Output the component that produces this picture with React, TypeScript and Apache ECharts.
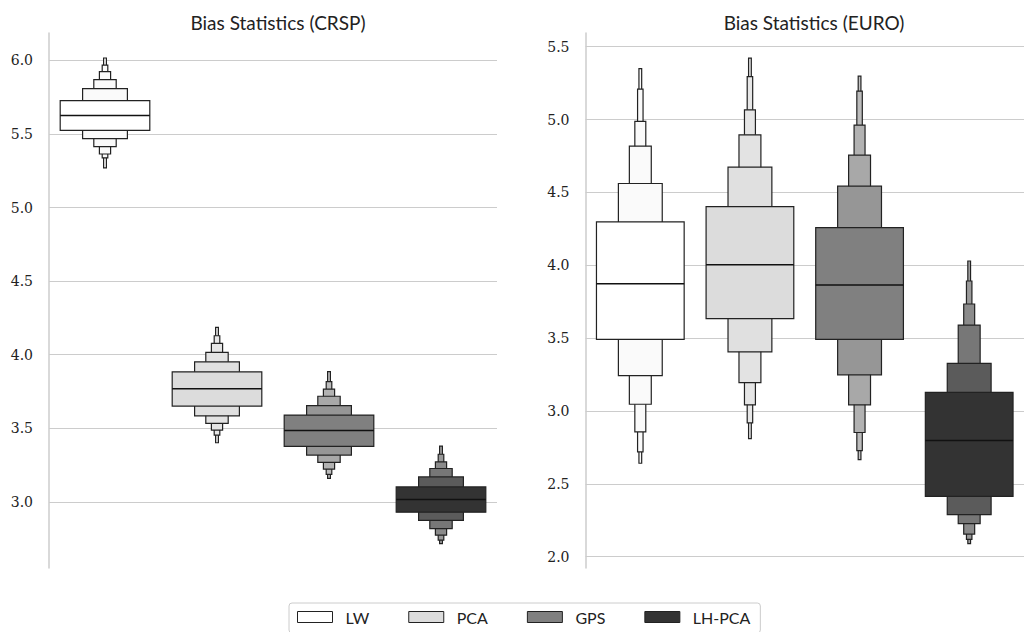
import React, { useEffect, useRef } from "react";
import * as echarts from "echarts";

// ---------------- data ----------------
const methods = ["LW", "PCA", "GPS", "LH-PCA"];
const yTicksCRSP = [3.0, 3.5, 4.0, 4.5, 5.0, 5.5, 6.0];
const yTicksEURO = [2.0, 2.5, 3.0, 3.5, 4.0, 4.5, 5.0, 5.5];

// letter values: level 1 (quartiles) ... level 6 (outermost)
const crspMedian = [5.626, 3.769, 3.486, 3.016];
const crspLower = [
  [5.524, 5.468, 5.414, 5.364, 5.338, 5.27],
  [3.651, 3.585, 3.534, 3.488, 3.454, 3.402],
  [3.378, 3.318, 3.269, 3.223, 3.187, 3.16],
  [2.93, 2.874, 2.819, 2.774, 2.74, 2.717],
];
const crspUpper = [
  [5.726, 5.808, 5.869, 5.924, 5.968, 6.016],
  [3.884, 3.952, 4.016, 4.077, 4.129, 4.186],
  [3.59, 3.654, 3.718, 3.767, 3.817, 3.885],
  [3.102, 3.17, 3.227, 3.272, 3.324, 3.379],
];

const euroMedian = [3.873, 4.004, 3.864, 2.797];
const euroLower = [
  [3.491, 3.243, 3.046, 2.856, 2.719, 2.641],
  [3.633, 3.406, 3.195, 3.042, 2.918, 2.81],
  [3.491, 3.248, 3.042, 2.852, 2.728, 2.666],
  [2.414, 2.288, 2.226, 2.155, 2.119, 2.089],
];
const euroUpper = [
  [4.297, 4.561, 4.817, 4.987, 5.209, 5.349],
  [4.402, 4.673, 4.895, 5.067, 5.294, 5.422],
  [4.258, 4.543, 4.756, 4.962, 5.195, 5.298],
  [3.127, 3.326, 3.589, 3.734, 3.892, 4.029],
];

// ---------------- styles ----------------
const baseColors = ["#ffffff", "#dcdcdc", "#808080", "#333333"];
const levelColors = [
  ["#ffffff", "#fafafa", "#fafafa", "#fafafa", "#fafafa", "#fafafa"],
  ["#dcdcdc", "#e0e0e0", "#e3e3e3", "#e5e5e5", "#e7e7e7", "#e9e9e9"],
  ["#808080", "#969696", "#a8a8a8", "#b2b2b2", "#bcbcbc", "#c4c4c4"],
  ["#333333", "#5b5b5b", "#777777", "#8b8b8b", "#9a9a9a", "#a6a6a6"],
];
const EDGE = "#222222";

function buildData(m: number, med: number[], lo: number[][], hi: number[][]) {
  const out: number[][] = [];
  for (let k = lo[m].length - 1; k >= 0; k--) {
    out.push([m, lo[m][k], hi[m][k], k + 1]);
  }
  out.push([m, med[m], med[m], 0]);
  return out;
}

function makeRenderItem(m: number) {
  return (params: any, api: any) => {
    const cat = api.value(0);
    const lo = api.value(1);
    const hi = api.value(2);
    const level = api.value(3);
    const pLo = api.coord([cat, lo]);
    const pHi = api.coord([cat, hi]);
    const full = api.size([1, 0])[0] * 0.8;
    if (level === 0) {
      return {
        type: "line",
        shape: { x1: pLo[0] - full / 2, y1: pLo[1], x2: pLo[0] + full / 2, y2: pLo[1] },
        style: { stroke: "#111111", lineWidth: 1.5 },
        z2: 10,
      };
    }
    const w = full * Math.pow(0.5, level - 1);
    return {
      type: "rect",
      shape: { x: pHi[0] - w / 2, y: pHi[1], width: w, height: pLo[1] - pHi[1] },
      style: { fill: levelColors[m][level - 1], stroke: EDGE, lineWidth: 1.2 },
    };
  };
}

const sansFont = "Lato";
const serifFont = "DejaVu Serif";

function yAxisFor(idx: number, min: number, max: number, ticks: number[]) {
  return {
    type: "value",
    gridIndex: idx,
    min,
    max,
    axisLine: { show: true, lineStyle: { color: "#cccccc", width: 1.5 } },
    axisTick: { show: false, customValues: ticks },
    axisLabel: {
      customValues: ticks,
      formatter: (v: number) => Number(v).toFixed(1),
      fontFamily: serifFont,
      fontSize: 14,
      color: "#222222",
      margin: 16,
    },
    splitLine: { show: true, lineStyle: { color: "#cccccc", width: 1.2 } },
  };
}

export default function App() {
  const ref = useRef<HTMLDivElement>(null);
  useEffect(() => {
    if (!ref.current) return;
    const chart = echarts.init(ref.current, null, { renderer: "svg" });
    const series: any[] = [];
    methods.forEach((name, m) => {
      series.push({
        type: "custom",
        name,
        xAxisIndex: 0,
        yAxisIndex: 0,
        renderItem: makeRenderItem(m),
        itemStyle: { color: baseColors[m], borderColor: EDGE, borderWidth: 1 },
        data: buildData(m, crspMedian, crspLower, crspUpper),
        encode: { x: 0, y: [1, 2] },
      });
      series.push({
        type: "custom",
        name,
        xAxisIndex: 1,
        yAxisIndex: 1,
        renderItem: makeRenderItem(m),
        itemStyle: { color: baseColors[m], borderColor: EDGE, borderWidth: 1 },
        data: buildData(m, euroMedian, euroLower, euroUpper),
        encode: { x: 0, y: [1, 2] },
        clip: false,
      });
    });
    const option: any = {
      animation: false,
      backgroundColor: "#ffffff",
      title: [
        {
          text: "Bias Statistics (CRSP)",
          left: 273,
          top: 8,
          textAlign: "center",
          textStyle: { fontFamily: sansFont, fontSize: 19, fontWeight: "normal", color: "#222222" },
        },
        {
          text: "Bias Statistics (EURO)",
          left: 809,
          top: 8,
          textAlign: "center",
          textStyle: { fontFamily: sansFont, fontSize: 19, fontWeight: "normal", color: "#222222" },
        },
      ],
      legend: {
        data: methods.map((name, m) => ({
          name,
          icon: "rect",
          itemStyle: { color: baseColors[m], borderColor: EDGE, borderWidth: 1 },
        })),
        left: 289,
        top: 603,
        orient: "horizontal",
        itemWidth: 35,
        itemHeight: 11,
        itemGap: 39,
        padding: [6, 10, 8, 8],
        borderColor: "#cccccc",
        borderWidth: 1,
        borderRadius: 3,
        selectedMode: false,
        textStyle: { fontFamily: sansFont, fontSize: 16, color: "#222222", padding: [0, 0, 0, 8] },
      },
      grid: [
        { left: 49, top: 33, right: 527, bottom: 64 },
        { left: 585.5, top: 33, right: -9, bottom: 64 },
      ],
      xAxis: [0, 1].map((i) => ({
        type: "category",
        gridIndex: i,
        data: methods,
        axisLine: { show: false },
        axisTick: { show: false },
        axisLabel: { show: false },
        splitLine: { show: false },
      })),
      yAxis: [
        yAxisFor(0, 2.551, 6.186, yTicksCRSP),
        yAxisFor(1, 1.922, 5.594, yTicksEURO),
      ],
      series,
    };
    chart.setOption(option);
    return () => chart.dispose();
  }, []);
  return (
    <div
      ref={ref}
      style={{ position: "absolute", left: 0, top: 0, width: 1024, height: 632 }}
    />
  );
}
